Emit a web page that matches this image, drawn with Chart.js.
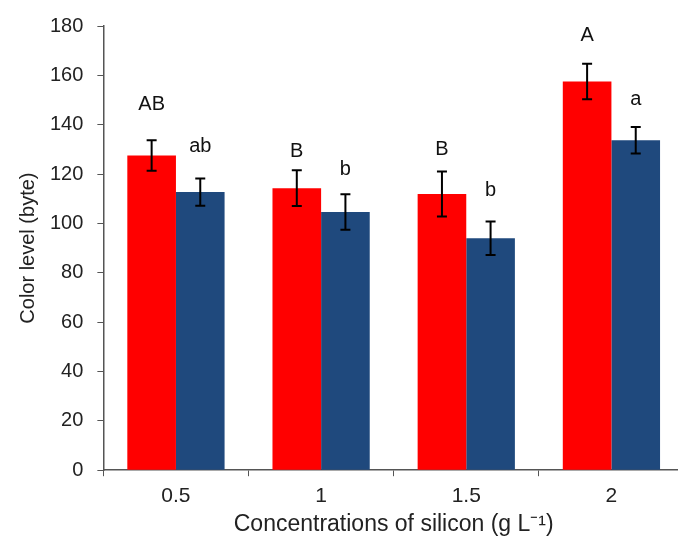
<!DOCTYPE html>
<html>
<head>
<meta charset="utf-8">
<script src="https://cdn.jsdelivr.net/npm/chart.js@4.4.1/dist/chart.umd.min.js"></script>
<style>
  html, body { margin: 0; padding: 0; background: #fff; overflow: hidden; }
  #wrap { width: 686px; height: 540px; }
</style>
</head>
<body>
<div id="wrap"><canvas id="chartCanvas"></canvas></div>
<script>
// values
let concentrations = ['0.5', '1', '1.5', '2'];
let redValues = [127.5, 114.3, 111.9, 157.5];
let redErrors = [6.2, 7.2, 9.1, 7.2];
let blueValues = [112.7, 104.6, 94.0, 133.7];
let blueErrors = [5.5, 7.2, 6.8, 5.4];
let redLetters = ['AB', 'B', 'B', 'A'];
let blueLetters = ['ab', 'b', 'b', 'a'];
// heights (in y units) where the letters sit
let redLetterY = [148, 129.2, 129.9, 176];
let blueLetterY = [131.2, 122, 113.4, 150.3];

let fontFamily = '"Liberation Sans", Arial, sans-serif';

// error bars + significance letters
const errorBars = {
    id: 'errorBars',
    afterDatasetsDraw(chart) {
        let ctx = chart.ctx;
        let yScale = chart.scales.y;
        chart.data.datasets.forEach((ds, i) => {
            let meta = chart.getDatasetMeta(i);
            meta.data.forEach((bar, j) => {
                let v = ds.data[j];
                let e = ds.errors[j];
                let top = yScale.getPixelForValue(v + e);
                let bottom = yScale.getPixelForValue(v - e);
                ctx.save();
                ctx.strokeStyle = '#000';
                ctx.lineWidth = 2;
                ctx.beginPath();
                ctx.moveTo(bar.x, top);
                ctx.lineTo(bar.x, bottom);
                ctx.moveTo(bar.x - 5, top);
                ctx.lineTo(bar.x + 5, top);
                ctx.moveTo(bar.x - 5, bottom);
                ctx.lineTo(bar.x + 5, bottom);
                ctx.stroke();

                ctx.fillStyle = '#111';
                ctx.font = '20px ' + fontFamily;
                ctx.textAlign = 'center';
                ctx.textBaseline = 'middle';
                ctx.fillText(ds.letters[j], bar.x, yScale.getPixelForValue(ds.letterY[j]));
                ctx.restore();
            });
        });
    }
};

new Chart('chartCanvas', {
    type: 'bar',
    data: {
        labels: concentrations,
        datasets: [
            {
                data: redValues,
                errors: redErrors,
                letters: redLetters,
                letterY: redLetterY,
                backgroundColor: '#ff0000',
                categoryPercentage: 0.67,
                barPercentage: 1.0
            },
            {
                data: blueValues,
                errors: blueErrors,
                letters: blueLetters,
                letterY: blueLetterY,
                backgroundColor: '#1f497d',
                categoryPercentage: 0.67,
                barPercentage: 1.0
            }
        ]
    },
    options: {
        responsive: true,
        maintainAspectRatio: false,
        animation: false,
        layout: { padding: { left: 10, top: 14, right: 2, bottom: 2 } },
        plugins: {
            legend: { display: false },
            tooltip: { enabled: false }
        },
        scales: {
            x: {
                grid: { display: true, drawOnChartArea: false, drawTicks: true, tickLength: 6, color: '#555', offset: true },
                border: { display: true, color: '#555', width: 1.5 },
                ticks: { color: '#222', font: { family: fontFamily, size: 21 }, padding: 7 },
                title: {
                    display: true,
                    text: 'Concentrations of silicon (g L⁻¹)',
                    color: '#222',
                    font: { family: fontFamily, size: 23 },
                    padding: { top: -5, bottom: 0 }
                }
            },
            y: {
                min: 0,
                max: 180,
                grid: { display: true, drawOnChartArea: false, drawTicks: true, tickLength: 6, color: '#555' },
                border: { display: true, color: '#555', width: 1.5 },
                ticks: { stepSize: 20, color: '#222', font: { family: fontFamily, size: 20 }, padding: 14 },
                title: {
                    display: true,
                    text: 'Color level (byte)',
                    color: '#222',
                    font: { family: fontFamily, size: 20 },
                    padding: { top: 6, bottom: -4 }
                }
            }
        }
    },
    plugins: [errorBars]
});
</script>
</body>
</html>
